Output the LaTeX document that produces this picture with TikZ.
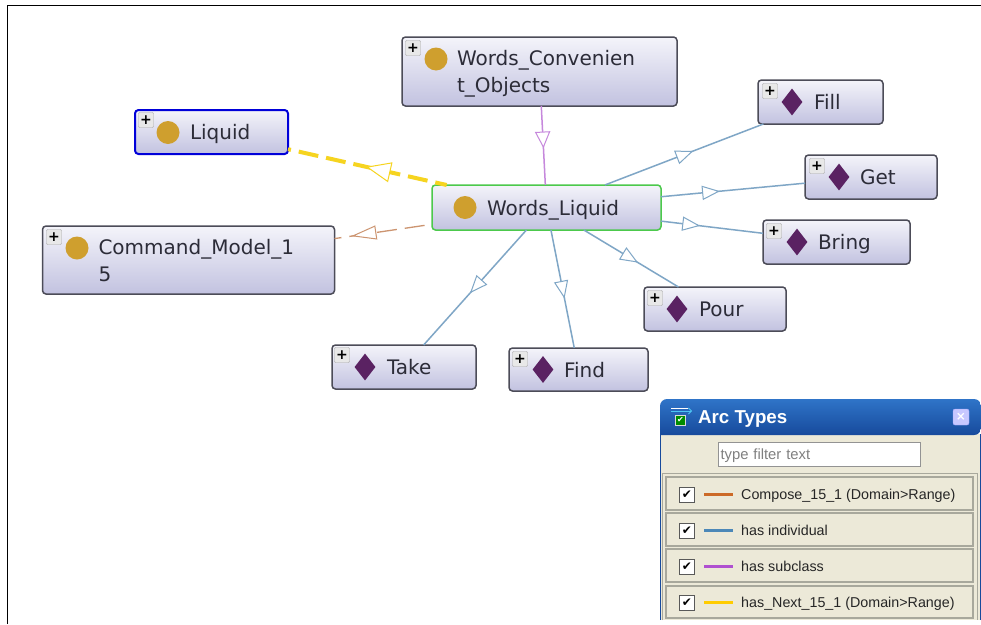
\documentclass[tikz,border=0pt]{standalone}
\usepackage{fontspec}
\setmainfont{DejaVu Sans}
\newfontfamily\legendfont{Liberation Sans}
\usetikzlibrary{arrows.meta,decorations.markings,shapes.geometric}
\definecolor{boxtop}{HTML}{F4F4FA}
\definecolor{boxbot}{HTML}{C2C2E0}
\definecolor{boxedge}{HTML}{4C4C58}
\definecolor{boxtext}{HTML}{2C2C38}
\definecolor{dotcol}{HTML}{CF9F2E}
\definecolor{diacol}{HTML}{5A2262}
\definecolor{indiv}{HTML}{7FA6C6}
\definecolor{subcl}{HTML}{C688DC}
\definecolor{nextc}{HTML}{F6D420}
\definecolor{compc}{HTML}{CC9470}
\definecolor{panel}{HTML}{ECE9D8}
\definecolor{rowedge}{HTML}{A8A89C}
\definecolor{bartop}{HTML}{2F74C8}
\definecolor{barbot}{HTML}{174A9C}
\tikzset{
  x=1pt,y=-1pt,
  nodebox/.style={draw=boxedge,line width=1.5pt,rounded corners=3.5pt,top color=boxtop,bottom color=boxbot,
    inner sep=0pt,outer sep=0pt,align=left,text=boxtext,text depth=0pt,
    font=\fontsize{20}{27}\selectfont},
  twoline/.style={text depth=27pt},
  selbox/.style={nodebox,draw=blue!85!black,line width=2pt},
  curbox/.style={nodebox,draw=green!70!black!70,line width=1.5pt},
  plusbtn/.style={draw=gray!70,fill=gray!18,minimum size=15pt,inner sep=0pt,rounded corners=1pt,
    font=\bfseries\fontsize{14}{14}\selectfont,text=black},
  classdot/.style={circle,fill=dotcol,minimum size=23pt,inner sep=0pt},
  inddia/.style={diamond,fill=diacol,minimum width=21pt,minimum height=27pt,inner sep=0pt,aspect=0.8},
  % hollow triangle at a position of the edge: position, colour, signed length, half width
  midtip/.style n args={4}{postaction={decorate},decoration={markings,mark=at position #1 with {\draw[solid,draw=#2,fill=white,line width=1pt,line join=miter] (0,0) -- (#3,#4) -- (#3,-#4) -- cycle;}}},
  hasind/.style={draw=indiv,line width=1.5pt,midtip={#1}{indiv}{-16}{6.5}},
  hassub/.style={draw=subcl,line width=1.5pt,midtip={#1}{subcl}{-15}{7}},
  hasnext/.style={draw=nextc,line width=4pt,dash pattern=on 20pt off 8pt,dash phase=17pt,midtip={#1}{nextc}{23}{9.5}},
  hascomp/.style={draw=compc,line width=1.3pt,dash pattern=on 20pt off 8pt,dash phase=13pt,midtip={#1}{compc}{23}{6.5}},
  rowbox/.style={draw=rowedge,line width=1.2pt,fill=panel,minimum width=307pt,minimum height=33pt,inner sep=0pt},
  rowtext/.style={anchor=base west,yshift=-5pt,inner sep=0pt,font=\legendfont\fontsize{14.3}{16}\selectfont,text=black!85},
  chkbox/.style={draw=gray!70!black,line width=1pt,fill=white,minimum size=15pt,inner sep=0pt,font=\fontsize{12}{12}\selectfont},
}
\begin{document}
\begin{tikzpicture}
\useasboundingbox (0,0) rectangle (981,624);
\fill[white] (0,0) rectangle (981,624);
\draw[black,line width=1.6pt] (7.5,624) -- (7.5,5.5) -- (981,5.5);

% nodes
\node[curbox,minimum width=229pt,minimum height=45pt,text width=229pt] (wl) at (546.5,207.5) {\hspace*{55pt}Words\_Liquid};
\node[selbox,minimum width=153pt,minimum height=44pt,text width=153pt] (liquid) at (211.5,132) {\hspace*{55pt}Liquid};
\node[nodebox,twoline,minimum width=275pt,minimum height=69pt,text width=275pt] (wc) at (539.5,71.5) {\hspace*{55pt}Words\_Convenien\\\hspace*{55pt}t\_Objects};
\node[nodebox,twoline,minimum width=292pt,minimum height=68pt,text width=292pt] (cm) at (188.5,260) {\hspace*{56pt}Command\_Model\_1\\\hspace*{56pt}5};
\node[nodebox,minimum width=125pt,minimum height=44pt,text width=125pt] (fill) at (820.5,102) {\hspace*{56pt}Fill};
\node[nodebox,minimum width=132pt,minimum height=44pt,text width=132pt] (get) at (871,177) {\hspace*{55pt}Get};
\node[nodebox,minimum width=147pt,minimum height=44pt,text width=147pt] (bring) at (836.5,242) {\hspace*{55pt}Bring};
\node[nodebox,minimum width=142pt,minimum height=44pt,text width=142pt] (pour) at (715,309) {\hspace*{55pt}Pour};
\node[nodebox,minimum width=139pt,minimum height=43pt,text width=139pt] (find) at (578.5,369.5) {\hspace*{55pt}Find};
\node[nodebox,minimum width=144pt,minimum height=44pt,text width=144pt] (take) at (404,367) {\hspace*{55pt}Take};

% connectors
\draw[hasind={.55}] (wl) -- (fill);
\draw[hasind={.40}] (wl) -- (get);
\draw[hasind={.37}] (wl) -- (bring);
\draw[hasind={.56}] (wl) -- (pour);
\draw[hasind={.57}] (wl) -- (find);
\draw[hasind={.54}] (wl) -- (take);
\draw[hassub={.52}] (wc) -- (wl);
\draw[hasnext={.5}] (liquid) -- (wl);
\draw[hascomp={.19}] (cm) -- (wl);

% plus buttons
\foreach \n/\px/\py in {pl/146/120,pw/413/48,pc/54/237,pf/770/91,pg/817/166,pb/774/231,pp/655/298,pn/520/359,pt/342/355}{
  \node[plusbtn] (\n) at (\px,\py) {+};
}
% class and individual marks
\foreach \n/\px/\py in {dw/465/207.5,dl/168/132.5,dc/436/59,dm/77/248}{
  \node[classdot] (\n) at (\px,\py) {};
}
\foreach \n/\px/\py in {mf/792/102,mg/839/177,mb/797/242,mp/677/309,mn/543/369.5,mt/365/367}{
  \node[inddia] (\n) at (\px,\py) {};
}

% Arc Types panel
\fill[panel] (660,434) rectangle (981,620);
\draw[barbot,line width=1.2pt] (660.6,434) -- (660.6,620);
\draw[barbot,line width=1.2pt] (980.4,434) -- (980.4,620);
\path[shade,top color=bartop,bottom color=barbot,rounded corners=7pt] (660,435) -- (660,399) -- (981,399) -- (981,435) [sharp corners] -- cycle;
\node[anchor=base west,inner sep=0pt,text=white,font=\legendfont\bfseries\fontsize{18.7}{20}\selectfont] (title) at (698,423) {Arc Types};
% panel icon
\draw[white,line width=1pt] (671,408) -- (688,408);
\draw[cyan!70!white,line width=.8pt,-{Straight Barb[length=3pt,width=6pt]}] (671,411) -- (692,411);
\node[draw=gray!30,fill=green!55!black,minimum size=10pt,inner sep=0pt,text=white,font=\fontsize{8}{8}\selectfont] (icon) at (680.5,420) {✔};
\node[fill=blue!22!white,draw=blue!35!white,rounded corners=2pt,minimum width=16pt,minimum height=16pt,inner sep=0pt,text=white,font=\bfseries\fontsize{12}{12}\selectfont] (closebtn) at (961,417) {×};
% filter field
\node[draw=gray!85,line width=1pt,fill=white,minimum width=202pt,minimum height=24pt,anchor=center,inner sep=0pt,text width=197pt,align=left,text=gray,text depth=0pt,font=\legendfont\fontsize{14.8}{16}\selectfont] (filter) at (819,454) {type filter text};
\draw[rowedge,line width=1pt] (662,620) -- (662,473.5) -- (977,473.5) -- (977,620);
% rows
\node[rowbox] (r1) at (819.5,493.5) {};
\node[rowbox] (r2) at (819.5,529.5) {};
\node[rowbox] (r3) at (819.5,565.5) {};
\node[rowbox,minimum height=32pt] (r4) at (819.5,602) {};
\foreach \n/\cy/\col/\t in {
  1/494.5/CC6A28/{Compose\_15\_1 (Domain>Range)},
  2/530.5/4C88B8/{has individual},
  3/566.5/B050D0/{has subclass},
  4/602.5/FFCC00/{has\_Next\_15\_1 (Domain>Range)}}{
  \node[chkbox] (c\n) at (687,\cy) {✔};
  \definecolor{linec}{HTML}{\col}
  \draw[linec,line width=2.6pt] (704,\cy) -- (733,\cy);
  \node[rowtext] (t\n) at (741,\cy) {\t};
}
\end{tikzpicture}
\end{document}
